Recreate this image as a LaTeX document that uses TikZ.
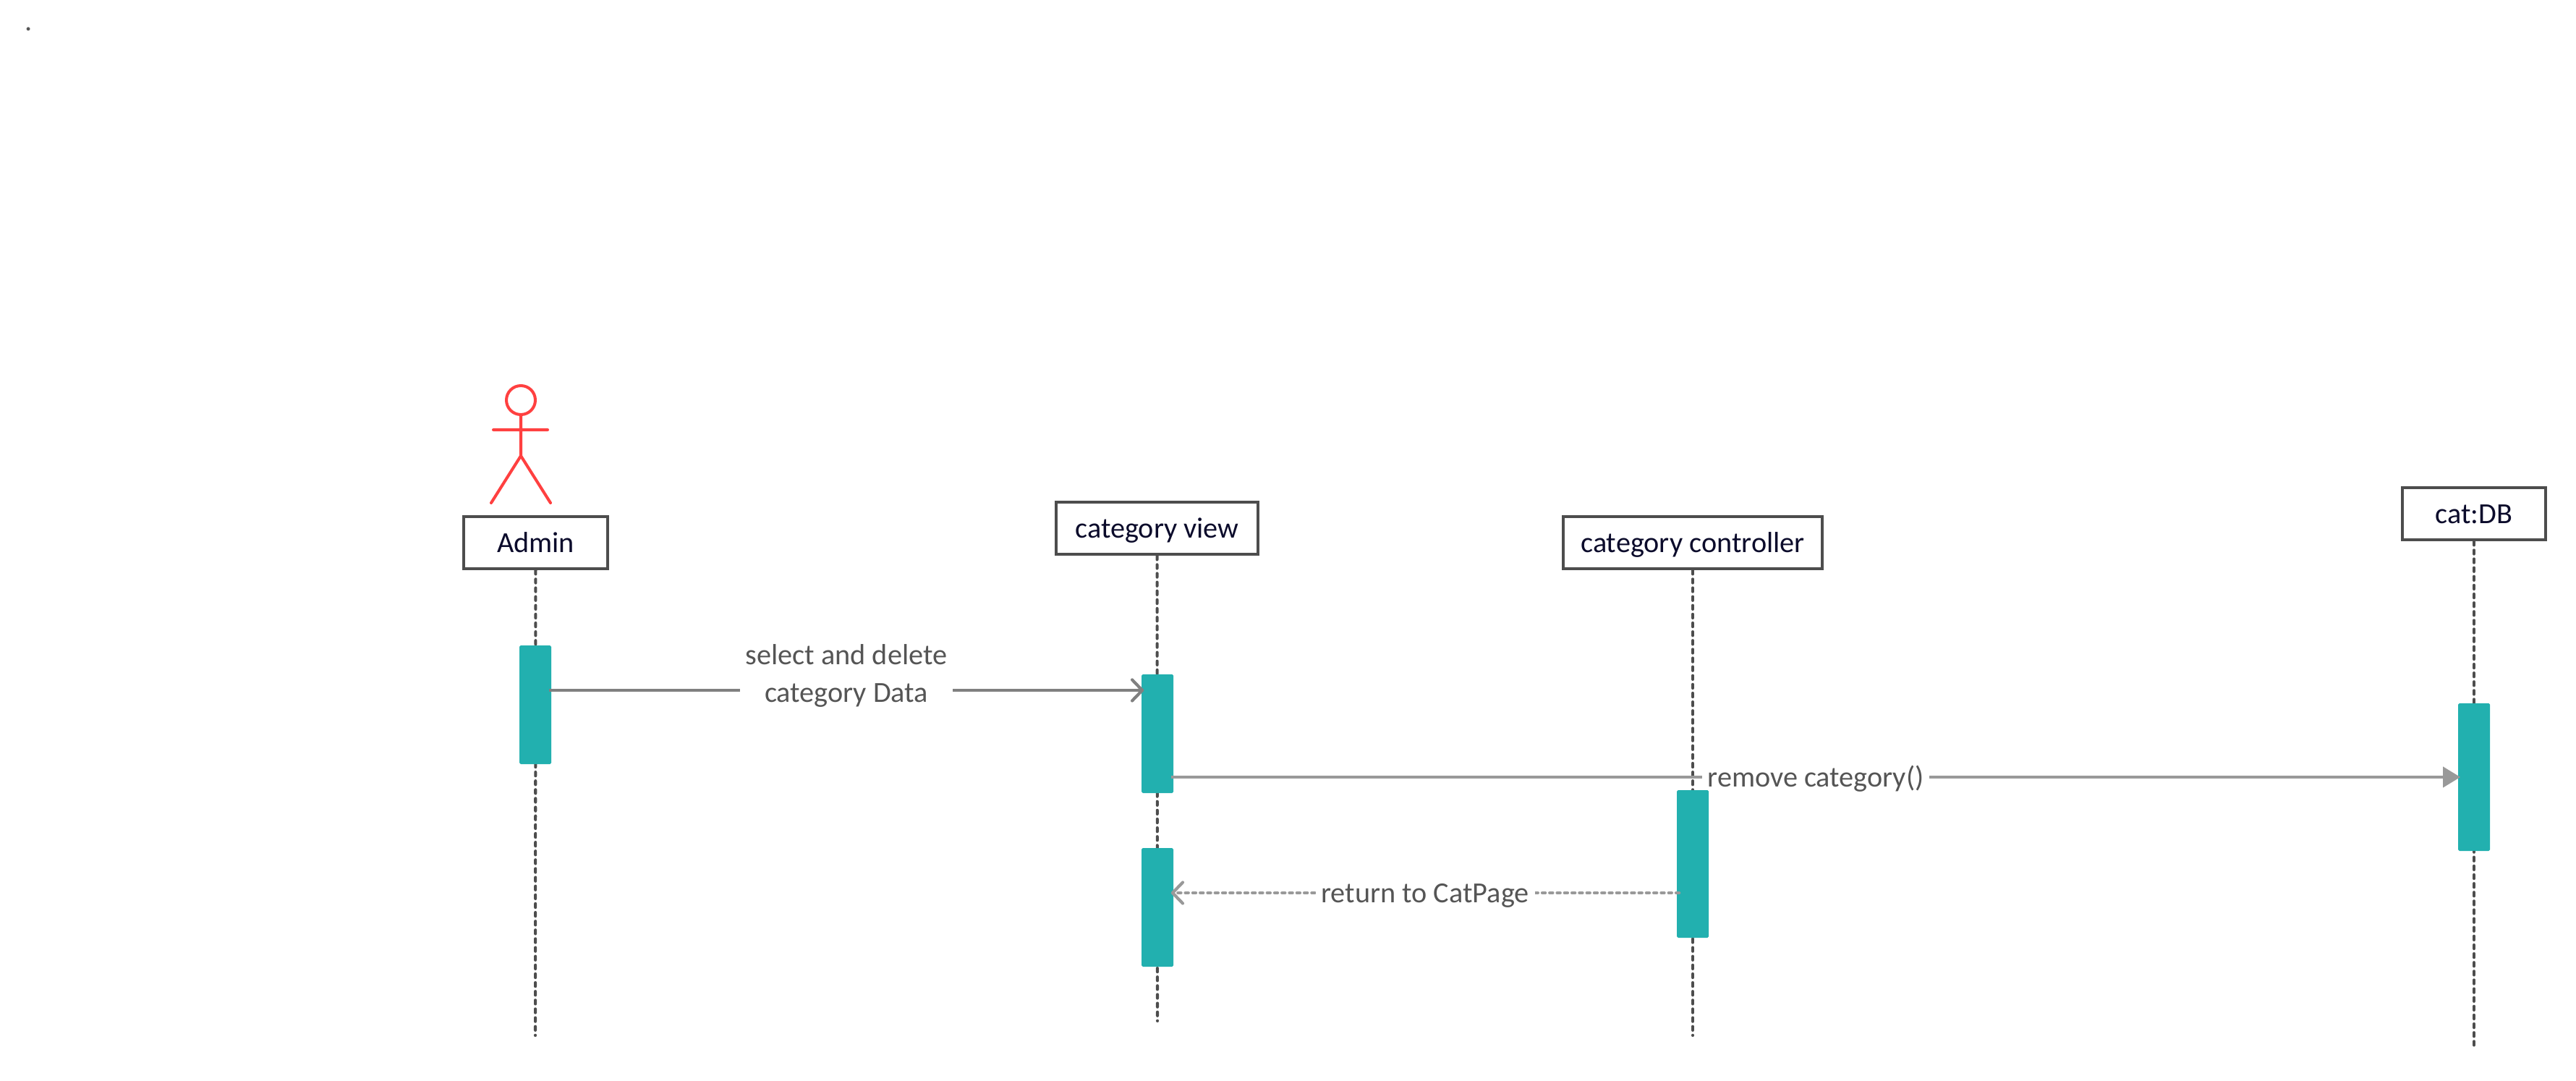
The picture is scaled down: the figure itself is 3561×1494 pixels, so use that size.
\documentclass[tikz,border=0pt]{standalone}
\usepackage{fontspec}
\setmainfont{Carlito}
\usepackage{tikz}
\usetikzlibrary{arrows.meta,positioning,calc}
\pgfdeclarelayer{bg}
\pgfsetlayers{bg,main}
\definecolor{barteal}{HTML}{22B0AF}
\definecolor{actorred}{HTML}{FF4040}
\definecolor{boxgray}{HTML}{4D4D4D}
\definecolor{boxtext}{HTML}{0B0B2B}
\definecolor{msgtext}{HTML}{555555}
\tikzset{
    head/.style={draw=boxgray,line width=2.5pt,fill=white,text=boxtext,font=\fontsize{22.9}{28}\selectfont,
        minimum height=72*0.02cm,inner sep=0pt,text height=17pt,text depth=1.1pt},
    bar/.style={fill=barteal,minimum width=44*0.02cm,inner sep=0pt,rounded corners=1pt},
    lifeline/.style={draw=boxgray,line width=2.3pt,line cap=round,dash pattern=on 3pt off 3.9pt},
    actorline/.style={draw=actorred,line width=2.3pt,line cap=round},
    msg/.style={line width=2.4pt,shorten <=-0.07cm,shorten >=-0.07cm},
    opentip/.style={-{Straight Barb[round,length=14*0.02cm,width=29*0.02cm]}},
    msgtxt/.style={fill=white,text=msgtext,font=\fontsize{22.9}{29.7}\selectfont,align=center,inner xsep=4.5pt,inner ysep=0pt},
    oneline/.style={msgtxt,text height=16pt,text depth=1.2pt},
}
\begin{document}
\begin{tikzpicture}[x=0.02cm,y=-0.02cm]
    \useasboundingbox (0,0) rectangle (3561,1494);
    \node [text=msgtext,font=\fontsize{22.9}{28}\selectfont,anchor=base,inner sep=0pt] (speck) at (40,42.5) {.};

    % actor
    \node [circle,actorline,minimum size=40*0.02cm,inner sep=0pt] (adminface) at (720,553) {};
    \coordinate (armL) at (682,594);
    \coordinate (armR) at (757,594);
    \coordinate (hip) at (720,630);
    \coordinate (footL) at (679,695);
    \coordinate (footR) at (761,695);
    \draw [actorline] (adminface) -- (hip) (armL) -- (armR) (footL) -- (hip) -- (footR);

    % heads
    \node [head,minimum width=199*0.02cm] (admin) at (740.5,750) {Admin};
    \node [head,minimum width=279*0.02cm] (view) at (1599.5,730) {category view};
    \node [head,minimum width=358*0.02cm] (ctrl) at (2340,750) {category controller};
    \node [head,minimum width=198*0.02cm] (db) at (3420,710) {cat:DB};

    % activations
    \node [bar,minimum height=164*0.02cm] (adminbar) at (740,974) {};
    \node [bar,minimum height=164*0.02cm] (viewbar) at (1600,1014) {};
    \node [bar,minimum height=164*0.02cm] (viewbarb) at (1600,1254) {};
    \node [bar,minimum height=204*0.02cm] (ctrlbar) at (2340,1194) {};
    \node [bar,minimum height=204*0.02cm] (dbbar) at (3420,1074) {};

    % lifeline ends
    \coordinate (adminend) at (740,1431);
    \coordinate (viewend) at (1600,1411);
    \coordinate (ctrlend) at (2340,1431);
    \coordinate (dbend) at (3420,1451);

    \begin{pgfonlayer}{bg}
        \draw [lifeline] (admin) -- (adminend);
        \draw [lifeline] (view) -- (viewend);
        \draw [lifeline] (ctrl) -- (ctrlend);
        \draw [lifeline] (db) -- (dbend);
    \end{pgfonlayer}

    % message rows
    \coordinate (rowa) at (0,954);
    \coordinate (rowb) at (0,1074);
    \coordinate (rowc) at (0,1234);

    \draw [msg,color=black!50,opentip] (adminbar.east |- rowa)
        -- node [msgtxt,yshift=11.6pt] {select and delete\\category Data} (viewbar.west |- rowa);
    \draw [msg,color=black!40,-{Triangle[length=24*0.02cm,width=28*0.02cm]}] (viewbar.east |- rowb)
        -- node [oneline] {remove category()} (dbbar.west |- rowb);
    \draw [msg,color=black!40,line cap=round,dash pattern=on 2.4pt off 3.45pt,opentip] (ctrlbar.west |- rowc)
        -- node [oneline] {return to CatPage} (viewbarb.east |- rowc);
\end{tikzpicture}
\end{document}
